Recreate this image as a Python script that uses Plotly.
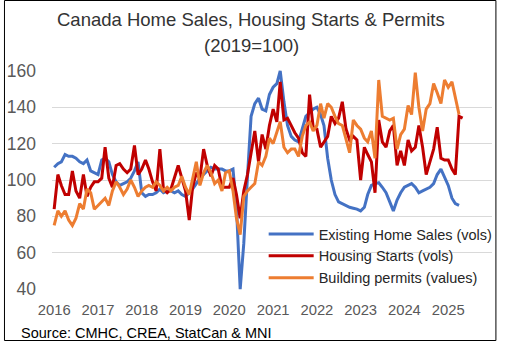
import pandas as pd
import plotly.graph_objects as go

# ---- data (index, 2019 = 100), monthly from Jan 2016 ----
start_month = "2016-01-01"

existing_home_sales = [
    107, 109, 110, 114, 113, 113, 112, 110, 109, 111, 105, 104,   # 2016
    103, 111, 112, 110, 103, 99, 97, 98, 99, 101, 105, 110,       # 2017
    93, 91, 92, 92, 93, 95, 93, 94, 94, 93, 94, 92,               # 2018
    91, 93, 95, 98, 101, 103, 105, 107, 106, 106, 106, 105,       # 2019
    105, 106, 85, 40, 65, 102, 135, 142, 145, 139, 138, 147,      # 2020
    151, 153, 160, 143, 130, 124, 122, 121, 128, 135, 137, 139,   # 2021
    140, 136, 130, 112, 100, 92, 88, 87, 86, 85, 84.5, 84,        # 2022
    83, 85, 92, 97, 98, 98.5, 96, 93, 88, 83, 89, 93,             # 2023
    96, 97, 98, 96, 93, 94, 95, 96, 98, 103, 106, 102,            # 2024
    97, 90, 87, 86,                                               # 2025
]

housing_starts = [
    84, 103, 97, 92, 92, 105, 94, 90, 103, 91, 96, 99,            # 2016
    99, 101, 118, 101, 96, 108, 109, 106, 104, 106, 119, 103,     # 2017
    106, 111, 106, 99, 94, 117, 95, 93, 95, 101, 108, 101,        # 2018
    94, 78, 96, 104, 101, 117, 108, 102, 108, 106, 96, 96,        # 2019
    96, 101, 92, 79, 94, 103, 114, 127, 110, 125, 117, 130,       # 2020
    139, 132, 154, 133, 134, 130, 126, 123, 115, 113, 147, 129,   # 2021
    128, 118, 121, 124, 135, 131, 134, 143, 128, 122, 124, 122,   # 2022
    100, 118, 114, 110, 93, 133, 121, 118, 127, 130, 108, 116,    # 2023
    108, 122, 116, 118, 130, 118, 103, 110, 117, 129, 112, 111,   # 2024
    111, 106, 103, 135, 134,                                      # 2025
]

building_permits = [
    75, 83, 80, 83, 78, 75, 79, 87, 84, 95, 93, 84,               # 2016
    86, 88, 90, 86, 94, 99, 96, 92, 95, 100, 96, 91,              # 2017
    94, 96, 97, 96, 99, 97, 94, 96, 94, 96, 97, 102,              # 2018
    96, 92, 101, 110, 97, 104, 108, 104, 98, 100, 94, 104,        # 2019
    105, 94, 79, 70, 91, 94, 96, 98, 110, 108, 113, 123,          # 2020
    120, 126, 132, 118, 115, 117, 117, 113, 124, 130, 132, 127,   # 2021
    130, 142, 134, 142, 140, 135, 131, 130, 122, 115, 133, 130,   # 2022
    128, 123, 121, 127, 112, 155, 135, 134, 133, 134, 117, 125,   # 2023
    128, 141, 136, 159, 140, 127, 139, 142, 153, 148, 142, 155,   # 2024
    151, 154, 146, 136,                                           # 2025
]

series_names = [
    "Existing Home Sales (vols)",
    "Housing Starts (vols)",
    "Building permits (values)",
]
series_colors = ["#4472C4", "#C00000", "#ED7D31"]

year_ticks = list(range(2016, 2026))
y_ticks = [40, 60, 80, 100, 120, 140, 160]

title_lines = ["Canada Home Sales, Housing Starts &amp; Permits", "(2019=100)"]
source_text = "Source: CMHC, CREA, StatCan &amp; MNI"

# ---- figure ----
W, H = 505, 342
L, R, T, B = 49, 7, 70, 52
pw, ph = W - L - R, H - T - B

def px_x(px):
    return (px - L) / pw

def px_y(py):
    return (H - B - py) / ph

fig = go.Figure()
for vals, name, color in zip(
    [existing_home_sales, housing_starts, building_permits], series_names, series_colors
):
    dates = pd.date_range(start_month, periods=len(vals), freq="MS")
    fig.add_trace(
        go.Scatter(
            x=dates,
            y=vals,
            mode="lines",
            name=name,
            line=dict(color=color, width=3),
        )
    )

font_main = "Liberation Sans, Arial, sans-serif"

annotations = []
for line_text, cy in zip(title_lines, [20, 46]):
    annotations.append(
        dict(
            text=line_text,
            xref="paper",
            yref="paper",
            x=px_x(W / 2),
            y=px_y(cy),
            xanchor="center",
            yanchor="middle",
            showarrow=False,
            font=dict(size=18.5, color="#333333", family=font_main),
        )
    )
annotations.append(
    dict(
        text=source_text,
        xref="paper",
        yref="paper",
        x=px_x(15),
        y=px_y(333),
        xanchor="left",
        yanchor="middle",
        showarrow=False,
        font=dict(size=14.5, color="#000000"),
    )
)

fig.update_layout(
    width=W,
    height=H,
    margin=dict(l=L, r=R, t=T, b=B),
    paper_bgcolor="white",
    plot_bgcolor="white",
    font=dict(family=font_main, color="#404040"),
    showlegend=True,
    legend=dict(
        x=px_x(265),
        xanchor="left",
        y=px_y(218),
        yanchor="top",
        bgcolor="rgba(0,0,0,0)",
        font=dict(size=14.5, color="#262626"),
        itemwidth=45,
        tracegroupgap=0,
    ),
    xaxis=dict(
        type="date",
        range=["2015-12-14", "2026-01-01"],
        tickvals=[pd.Timestamp(f"{y}-01-01") for y in year_ticks],
        ticktext=[str(y) for y in year_ticks],
        showgrid=False,
        showline=False,
        zeroline=False,
        ticks="",
        tickfont=dict(size=14.8, color="#595959"),
        ticklabelstandoff=9,
    ),
    yaxis=dict(
        range=[39.5, 160.5],
        tickvals=y_ticks,
        showgrid=True,
        gridcolor="#D9D9D9",
        gridwidth=1.3,
        showline=False,
        zeroline=False,
        ticks="",
        tickfont=dict(size=17.5, color="#595959"),
        ticklabelstandoff=15,
    ),
    annotations=annotations,
    shapes=[
        dict(
            type="rect",
            xref="paper",
            yref="paper",
            x0=px_x(0.5),
            x1=px_x(502),
            y0=px_y(340.5),
            y1=px_y(0.5),
            line=dict(color="#000000", width=1),
            fillcolor="rgba(0,0,0,0)",
            layer="above",
        )
    ],
)

fig.write_html("out.html")
